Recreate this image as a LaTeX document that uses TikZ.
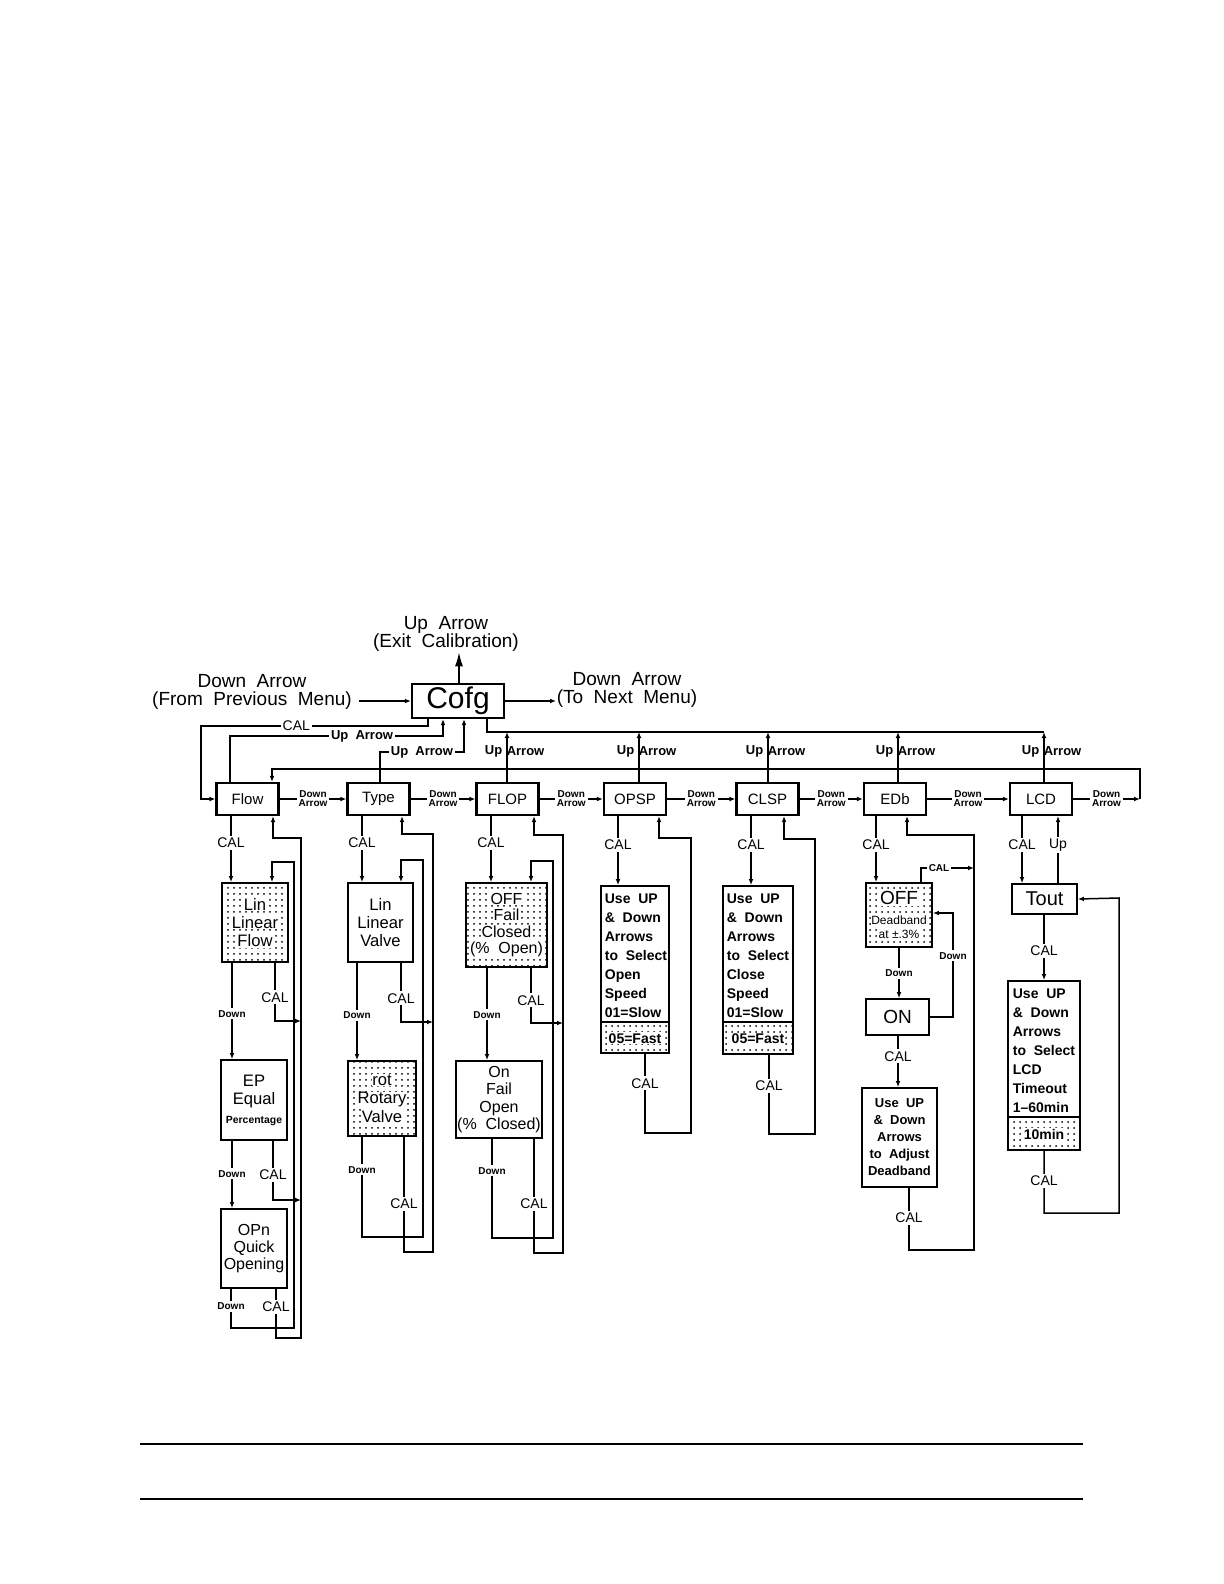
\documentclass[tikz,border=0pt]{standalone}
\usepackage{fontspec}
\setmainfont{Liberation Sans}
\usetikzlibrary{arrows.meta, patterns}

\newcommand{\fsz}[2]{\fontsize{#1}{#2}\selectfont}
% white patch behind a line of text on a dotted box
\newcommand{\clr}[1]{{\setlength{\fboxsep}{0.4pt}\colorbox{white}{#1}}}

\begin{document}
\begin{tikzpicture}[
  x = 0.5pt, y = -0.5pt,
  line width = 0.75pt,
  every node/.style = {inner sep=0pt},
  menubox/.style = {draw, line width=1.1pt, minimum width=31pt, minimum height=16pt, font=\fsz{7.5}{9}},
  optbox/.style = {draw, line width=0.9pt, align=center, font=\fsz{8.3}{9.2}},
  selbox/.style = {draw, line width=0.9pt, path picture={
      \fill[pattern=dots] (path picture bounding box.south west) rectangle ([yshift=#1]path picture bounding box.south east);
      \draw[line width=0.9pt] ([yshift=#1]path picture bounding box.south west) -- ([yshift=#1]path picture bounding box.south east);}},
  seltext/.style = {align=left, font=\bfseries\fsz{7}{9.5}},
  biglab/.style = {align=center, font=\fsz{9.5}{9}},
  lab/.style = {fill=white, inner sep=1pt, font=\fsz{7}{7}},
  dnlab/.style = {fill=white, inner sep=1pt, font=\bfseries\fsz{5}{5}},
  arrlab/.style = {fill=white, inner sep=1pt, align=center, font=\bfseries\fsz{5}{4.5}},
  uplab/.style = {font=\bfseries\fsz{6.5}{6.5}},
  arr/.style = {-{Latex[length=3pt, width=2.4pt]}},
]
\useasboundingbox (0,0) rectangle (1224,1584);

% main menu entry
\node[menubox, minimum width=46pt, minimum height=17pt, font=\fsz{15}{15}] (cofg) at (458,701) {Cofg};
\node[biglab] (exit) at (446,634) {Up~ Arrow\\(Exit~ Calibration)};
\node[biglab] (prev) at (252,692) {Down~ Arrow\\(From~ Previous~ Menu)};
\node[biglab] (next) at (627,690) {Down~ Arrow\\(To~ Next~ Menu)};
\draw[-{Latex[length=7pt, width=4pt]}] (459,0 |- cofg.north) -- (459,0 |- exit.south);
\draw[arr] ([xshift=3pt]prev.east |- cofg.west) -- (cofg.west);
\draw[arr] (cofg.east) -- (next.west |- cofg.east);

% sub menu row
\foreach \name/\txt/\x in {flow/Flow/247.5, type/Type/378.5, flop/FLOP/507.5, opsp/OPSP/635,
                           clsp/CLSP/767.5, edb/EDb/895, lcd/LCD/1041}
  \node[menubox] (\name) at (\x,799) {\txt};

\foreach \a/\b in {flow/type, type/flop, flop/opsp, opsp/clsp, clsp/edb, edb/lcd}
  \draw[arr] (\a.east) -- node[arrlab] (da-\a) {Down\\Arrow} (\b.west);

\coordinate (wrap) at (1140,799);
\draw[arr] (lcd.east) -- node[arrlab] (da-lcd) {Down\\Arrow} (wrap);
\draw[arr] (wrap) -- (1140,769) -- (272,769) -- (272,0 |- flow.north);

% links back to Cofg
\draw[arr] (428,0 |- cofg.south) -- (428,726) -- node[lab, pos=0.58] (cal-top) {CAL} (201,726) |- (flow.west);
\draw[arr] (230,0 |- flow.north) -- (230,736) -- node[lab, uplab, pos=0.62] (ua-flow) {Up~ Arrow} (443,736) -- (443,0 |- cofg.south);
\draw[arr] (380,0 |- type.north) -- (380,752) -- node[lab, uplab] (ua-type) {Up~ Arrow} (464,752) -- (464,0 |- cofg.south);
\draw (487,0 |- cofg.south) |- (1044,732);
\foreach \name/\x in {flop/507, opsp/639, clsp/768, edb/898, lcd/1044}{
  \draw[arr] (\x,0 |- \name.north) -- (\x,732);
  \node[uplab, anchor=east] (up-\name) at (\x-4,751) {Up};
  \node[uplab, anchor=west] (ar-\name) at (\x-1,751) {Arrow};
}

% Flow
\node[optbox, pattern=dots, minimum width=33pt, minimum height=39.5pt] (linflow) at (255,922.5) {\clr{Lin}\\\clr{Linear}\\\clr{Flow}};
\node[optbox, minimum width=33pt, minimum height=40pt] (ep) at (254,1100) {EP\\Equal\\\bfseries\fsz{5.2}{6}Percentage};
\node[optbox, minimum width=33pt, minimum height=39.5pt, font=\fsz{8}{8.5}] (opn) at (254,1248.5) {OPn\\Quick\\Opening};
\coordinate (rail-flow) at (301,838);
\draw[arr] (231,0 |- flow.south) -- node[lab, pos=0.41] (cal-flow) {CAL} (231,0 |- linflow.north);
\draw[arr] (232,0 |- linflow.south) -- node[dnlab, pos=0.53] (dn-linflow) {Down} (232,0 |- ep.north);
\draw[arr] (232,0 |- ep.south) -- node[dnlab, pos=0.49] (dn-ep) {Down} (232,0 |- opn.north);
\draw[arr] (276,0 |- opn.south) -- node[lab, pos=0.36] (cal-opn) {CAL} (276,1338) -| (rail-flow) -| (273,0 |- flow.south);
\draw[arr] (231,0 |- opn.south) -- node[dnlab, pos=0.45] (dn-opn) {Down} (231,1328) -- (294,1328) -- (294,862) -- (272,862) -- (272,0 |- linflow.north);
\draw[arr] (275,0 |- linflow.south) -- node[lab, pos=0.59] (cal-linflow) {CAL} (275,1021) -- (rail-flow |- 0,1021);
\draw[arr] (273,0 |- ep.south) -- node[lab, pos=0.57] (cal-ep) {CAL} (273,1200) -- (rail-flow |- 0,1200);

% Type
\node[optbox, minimum width=32.5pt, minimum height=39.5pt] (linvalve) at (380.5,922.5) {Lin\\Linear\\Valve};
\node[optbox, pattern=dots, minimum width=34pt, minimum height=37.5pt] (rot) at (382,1098.5) {\clr{rot}\\\clr{Rotary}\\\clr{Valve}};
\coordinate (rail-type) at (433,834);
\draw[arr] (362,0 |- type.south) -- node[lab, pos=0.41] (cal-type) {CAL} (362,0 |- linvalve.north);
\draw[arr] (357,0 |- linvalve.south) -- node[dnlab, pos=0.54] (dn-linvalve) {Down} (357,0 |- rot.north);
\draw[arr] (404,0 |- rot.south) -- node[lab, pos=0.58] (cal-rot) {CAL} (404,1252) -| (rail-type) -| (402,0 |- type.south);
\draw[arr] (362,0 |- rot.south) -- node[dnlab, pos=0.33] (dn-rot) {Down} (362,1237) -- (423,1237) -- (423,860) -- (401,860) -- (401,0 |- linvalve.north);
\draw[arr] (401,0 |- linvalve.south) -- node[lab, pos=0.6] (cal-linvalve) {CAL} (401,1022) -- (rail-type |- 0,1022);

% FLOP
\node[optbox, pattern=dots, minimum width=40.5pt, minimum height=42pt, font=\fsz{8}{8.3}] (offflop) at (506.5,925) {\clr{OFF}\\\clr{Fail}\\\clr{Closed}\\\clr{(\%~ Open)}};
\node[optbox, minimum width=43pt, minimum height=38.5pt, font=\fsz{8}{8.8}] (onflop) at (499,1099.5) {On\\Fail\\Open\\(\%~ Closed)};
\coordinate (rail-flop) at (563,835);
\draw[arr] (491,0 |- flop.south) -- node[lab, pos=0.41] (cal-flop) {CAL} (491,0 |- offflop.north);
\draw[arr] (487,0 |- offflop.south) -- node[dnlab, pos=0.51] (dn-offflop) {Down} (487,0 |- onflop.north);
\draw[arr] (534,0 |- onflop.south) -- node[lab, pos=0.57] (cal-onflop) {CAL} (534,1253) -| (rail-flop) -| (534,0 |- flop.south);
\draw[arr] (492,0 |- onflop.south) -- node[dnlab, pos=0.32] (dn-onflop) {Down} (492,1238) -- (553,1238) -- (553,861) -- (531,861) -- (531,0 |- offflop.north);
\draw[arr] (531,0 |- offflop.south) -- node[lab, pos=0.59] (cal-offflop) {CAL} (531,1023) -- (rail-flop |- 0,1023);

% OPSP
\node[selbox=15.5pt, minimum width=34pt, minimum height=83.5pt] (opsel) at (635,969.5) {};
\node[seltext, anchor=north west] (opsel-t) at ([xshift=2pt, yshift=-4pt]opsel.north west) {Use~ UP\\\&~ Down\\Arrows\\to~ Select\\Open\\Speed\\01=Slow};
\node[seltext, fill=white, inner sep=0.5pt] (opsel-f) at ([yshift=7.75pt]opsel.south) {05=Fast};
\draw[arr] (618,0 |- opsp.south) -- node[lab, pos=0.42] (cal-opsp) {CAL} (618,0 |- opsel.north);
\draw[arr] (645,0 |- opsel.south) -- node[lab, pos=0.37] (cal-opsel) {CAL} (645,1133) -| (691,838) -| (659,0 |- opsp.south);

% CLSP
\node[selbox=16pt, minimum width=35pt, minimum height=84pt] (clsel) at (758,970) {};
\node[seltext, anchor=north west] (clsel-t) at ([xshift=2pt, yshift=-4pt]clsel.north west) {Use~ UP\\\&~ Down\\Arrows\\to~ Select\\Close\\Speed\\01=Slow};
\node[seltext, fill=white, inner sep=0.5pt] (clsel-f) at ([yshift=8pt]clsel.south) {05=Fast};
\draw[arr] (751,0 |- clsp.south) -- node[lab, pos=0.42] (cal-clsp) {CAL} (751,0 |- clsel.north);
\draw[arr] (769,0 |- clsel.south) -- node[lab, pos=0.39] (cal-clsel) {CAL} (769,1134) -| (815,839) -| (784,0 |- clsp.south);

% EDb
\node[optbox, pattern=dots, minimum width=33pt, minimum height=32pt, font=\fsz{6}{7}] (offdb) at (899,915) {\clr{\fsz{9.5}{9.5}OFF}\\[3pt]\clr{Deadband}\\\clr{at ±.3\%}};
\node[optbox, minimum width=31.5pt, minimum height=18pt, font=\fsz{9.5}{9.5}] (ondb) at (897.5,1017) {ON};
\node[optbox, minimum width=37.5pt, minimum height=49.5pt, font=\bfseries\fsz{6.5}{8.5}] (adjdb) at (899.5,1137.5) {Use~ UP\\\&~ Down\\Arrows\\to~ Adjust\\Deadband};
\coordinate (rail-edb) at (974,835);
\draw[arr] (876,0 |- edb.south) -- node[lab, pos=0.44] (cal-edb) {CAL} (876,0 |- offdb.north);
\draw[arr] (909,0 |- adjdb.south) -- node[lab, pos=0.48] (cal-adjdb) {CAL} (909,1250) -| (rail-edb) -| (907,0 |- edb.south);
\draw[arr] (921,0 |- offdb.north) -- (921,868) -- node[dnlab, pos=0.34] (cal-offdb) {CAL} (rail-edb |- 0,868);
\draw[arr] (899,0 |- offdb.south) -- node[dnlab] (dn-offdb) {Down} (899,0 |- ondb.north);
\draw[arr] (ondb.east) -- (953,0 |- ondb.east) -- node[dnlab, pos=0.59] (dn-ondb) {Down} (953,913) -- (offdb.east |- 0,913);
\draw[arr] (898,0 |- ondb.south) -- node[lab, pos=0.4] (cal-ondb) {CAL} (898,0 |- adjdb.north);

% LCD
\node[optbox, minimum width=32.5pt, minimum height=15pt, font=\fsz{10}{10}] (tout) at (1044.5,899) {Tout};
\node[selbox=16.5pt, minimum width=36pt, minimum height=84.5pt] (lcdsel) at (1044,1065.5) {};
\node[seltext, anchor=north west] (lcdsel-t) at ([xshift=2.5pt, yshift=-4pt]lcdsel.north west) {Use~ UP\\\&~ Down\\Arrows\\to~ Select\\LCD\\Timeout\\1--60min};
\node[seltext, fill=white, inner sep=0.5pt] (lcdsel-f) at ([yshift=8.25pt]lcdsel.south) {10min};
\draw[arr] (1022,0 |- lcd.south) -- node[lab, pos=0.43] (cal-lcd) {CAL} (1022,0 |- tout.north);
\draw[arr] (1058,0 |- tout.north) -- node[lab, pos=0.57] (up-tout) {Up} (1058,0 |- lcd.south);
\draw[arr] (1044,0 |- tout.south) -- node[lab, pos=0.55] (cal-tout) {CAL} (1044,0 |- lcdsel.north);
\draw[arr] (1044,0 |- lcdsel.south) -- node[lab, pos=0.48] (cal-lcdsel) {CAL} (1044,1213) -| (1119,898) -- (tout.east);

% page rules
\draw[line width=0.9pt] (140,1444) -- (1083,1444);
\draw[line width=0.9pt] (140,1499) -- (1083,1499);

\end{tikzpicture}
\end{document}
